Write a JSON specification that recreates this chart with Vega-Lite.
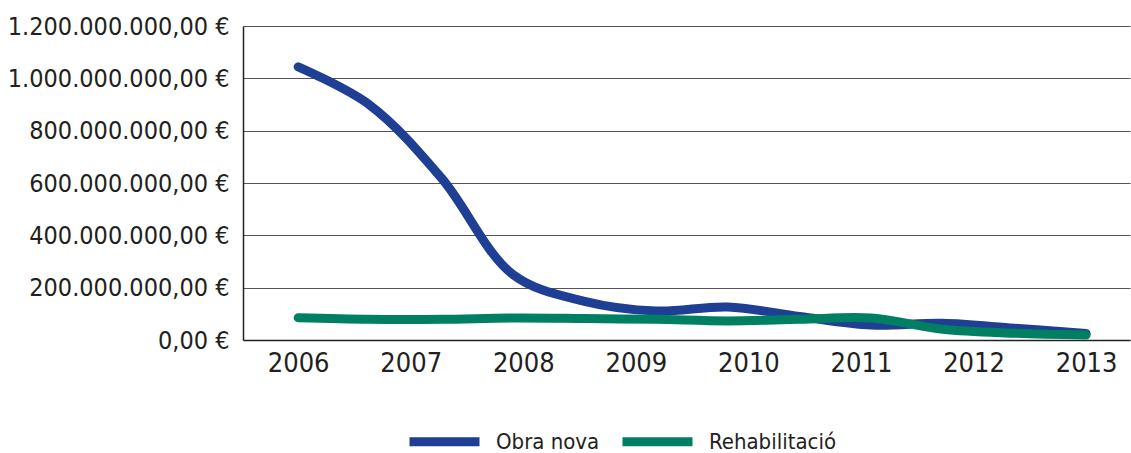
{
  "$schema": "https://vega.github.io/schema/vega-lite/v6.json",
  "autosize": "none",
  "padding": {"left": 243, "top": 26, "right": 1, "bottom": 113},
  "width": 887,
  "height": 314,
  "background": "white",
  "config": {
    "locale": {"number": {"decimal": ",", "thousands": ".", "grouping": [3], "currency": ["", " €"]}},
    "font": "'Liberation Sans Narrow', 'DejaVu Sans Condensed', sans-serif",
    "view": {"stroke": null}
  },
  "data": {
    "values": [
      {"x": 2006.0, "serie": "Obra nova", "value": 1044000000},
      {"x": 2006.636, "serie": "Obra nova", "value": 898000000},
      {"x": 2007.273, "serie": "Obra nova", "value": 619000000},
      {"x": 2007.909, "serie": "Obra nova", "value": 250000000},
      {"x": 2008.545, "serie": "Obra nova", "value": 148000000},
      {"x": 2009.182, "serie": "Obra nova", "value": 111000000},
      {"x": 2009.818, "serie": "Obra nova", "value": 126000000},
      {"x": 2010.455, "serie": "Obra nova", "value": 90000000},
      {"x": 2011.091, "serie": "Obra nova", "value": 57000000},
      {"x": 2011.727, "serie": "Obra nova", "value": 64000000},
      {"x": 2012.364, "serie": "Obra nova", "value": 45000000},
      {"x": 2013.0, "serie": "Obra nova", "value": 25000000},
      {"x": 2006.0, "serie": "Rehabilitació", "value": 85000000},
      {"x": 2006.636, "serie": "Rehabilitació", "value": 79000000},
      {"x": 2007.273, "serie": "Rehabilitació", "value": 79000000},
      {"x": 2007.909, "serie": "Rehabilitació", "value": 84000000},
      {"x": 2008.545, "serie": "Rehabilitació", "value": 82000000},
      {"x": 2009.182, "serie": "Rehabilitació", "value": 79000000},
      {"x": 2009.818, "serie": "Rehabilitació", "value": 73000000},
      {"x": 2010.455, "serie": "Rehabilitació", "value": 79000000},
      {"x": 2011.091, "serie": "Rehabilitació", "value": 84000000},
      {"x": 2011.727, "serie": "Rehabilitació", "value": 41000000},
      {"x": 2012.364, "serie": "Rehabilitació", "value": 26000000},
      {"x": 2013.0, "serie": "Rehabilitació", "value": 19000000}
    ]
  },
  "mark": {"type": "line", "interpolate": "catmull-rom", "strokeWidth": 9, "strokeCap": "round", "strokeJoin": "round", "clip": false},
  "encoding": {
    "x": {
      "field": "x", "type": "quantitative",
      "scale": {"domain": [2005.51, 2013.39], "nice": false, "zero": false},
      "axis": {
        "title": null, "values": [2006, 2007, 2008, 2009, 2010, 2011, 2012, 2013], "format": "d",
        "grid": false, "ticks": false, "domainColor": "#222", "domainWidth": 1.5,
        "labelFontSize": 27, "labelColor": "#231f20", "labelPadding": 10, "labelLimit": 0
      }
    },
    "y": {
      "field": "value", "type": "quantitative",
      "scale": {"domain": [0, 1200000000], "nice": false},
      "axis": {
        "title": null, "values": [0, 200000000, 400000000, 600000000, 800000000, 1000000000, 1200000000],
        "format": ",.2f", "labelExpr": "datum.label + ' €'",
        "ticks": false, "domainColor": "#222", "domainWidth": 1.5,
        "gridColor": "#555", "gridWidth": 1.2,
        "labelFontSize": 25, "labelColor": "#231f20", "labelPadding": 14, "labelLimit": 0
      }
    },
    "color": {
      "field": "serie", "type": "nominal",
      "scale": {"domain": ["Obra nova", "Rehabilitació"], "range": ["#1e3f94", "#007f63"]},
      "legend": {
        "title": null, "orient": "none", "direction": "horizontal",
        "legendX": 162, "legendY": 376,
        "symbolType": "stroke", "symbolSize": 4900, "symbolStrokeWidth": 9,
        "labelFontSize": 22, "labelColor": "#231f20", "labelLimit": 0,
        "columnPadding": 4, "labelOffset": 12
      }
    }
  }
}
